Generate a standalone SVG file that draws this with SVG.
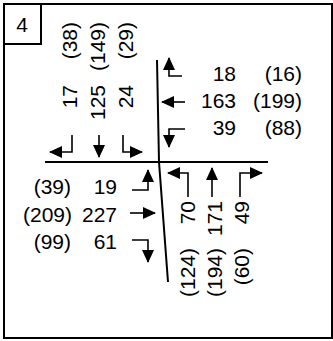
<svg xmlns="http://www.w3.org/2000/svg" width="333" height="341" viewBox="0 0 333 341">
<style>
text{font-family:"Liberation Sans",Arial,sans-serif;font-size:21px;fill:#000}
.e{text-anchor:end}
.ln{fill:none;stroke:#000;stroke-width:2}
.ar{fill:none;stroke:#000;stroke-width:1.6;marker-end:url(#ah)}
</style>
<defs>
<marker id="ah" viewBox="0 0 13 12" refX="12" refY="6" markerWidth="13" markerHeight="12" markerUnits="userSpaceOnUse" orient="auto">
<path d="M0,0 L13,6 L0,12 z" fill="#000"/>
</marker>
</defs>
<rect width="333" height="341" fill="#fff"/>
<g id="frame">
<rect x="4" y="4" width="328" height="334" class="ln"/>
<rect x="4" y="4" width="37" height="40" class="ln"/>
<text x="22" y="32" text-anchor="middle">4</text>
</g>
<g id="connectors">
<path class="ln" d="M45,162 H268"/>
<path class="ln" d="M157,60 L159,162 L168,282" stroke-width="1.5"/>
</g>
<g id="north-approach">
<path class="ar" d="M72,135 V152 H50"/>
<path class="ar" d="M99,135 V157"/>
<path class="ar" d="M123,135 V152 H142"/>
<text class="e" transform="translate(77,85) rotate(-90)">17</text>
<text class="e" transform="translate(105,85) rotate(-90)">125</text>
<text class="e" transform="translate(133,85) rotate(-90)">24</text>
<text class="e" transform="translate(77,22) rotate(-90)">(38)</text>
<text class="e" transform="translate(105,22) rotate(-90)">(149)</text>
<text class="e" transform="translate(133,22) rotate(-90)">(29)</text>
</g>
<g id="east-approach">
<path class="ar" d="M182,76 H169 V58"/>
<path class="ar" d="M185,102 H162"/>
<path class="ar" d="M185,129 H169 V147"/>
<text class="e" x="236" y="81">18</text>
<text class="e" x="236" y="108">163</text>
<text class="e" x="236" y="135">39</text>
<text class="e" x="302" y="81">(16)</text>
<text class="e" x="302" y="108">(199)</text>
<text class="e" x="302" y="135">(88)</text>
</g>
<g id="west-approach">
<path class="ar" d="M132,190 H148 V170"/>
<path class="ar" d="M130,213 H155"/>
<path class="ar" d="M132,240 H148 V262"/>
<text class="e" x="117" y="194">19</text>
<text class="e" x="117" y="222">227</text>
<text class="e" x="117" y="249">61</text>
<text class="e" x="71" y="194">(39)</text>
<text class="e" x="72" y="222">(209)</text>
<text class="e" x="71" y="249">(99)</text>
</g>
<g id="south-approach">
<path class="ar" d="M188,197 V173 H168"/>
<path class="ar" d="M212,197 V168"/>
<path class="ar" d="M240,197 V173 H262"/>
<text class="e" transform="translate(195,201) rotate(-90)">70</text>
<text class="e" transform="translate(222,201) rotate(-90)">171</text>
<text class="e" transform="translate(249,201) rotate(-90)">49</text>
<text class="e" transform="translate(195,248) rotate(-90)">(124)</text>
<text class="e" transform="translate(222,248) rotate(-90)">(194)</text>
<text class="e" transform="translate(249,248) rotate(-90)">(60)</text>
</g>
</svg>
